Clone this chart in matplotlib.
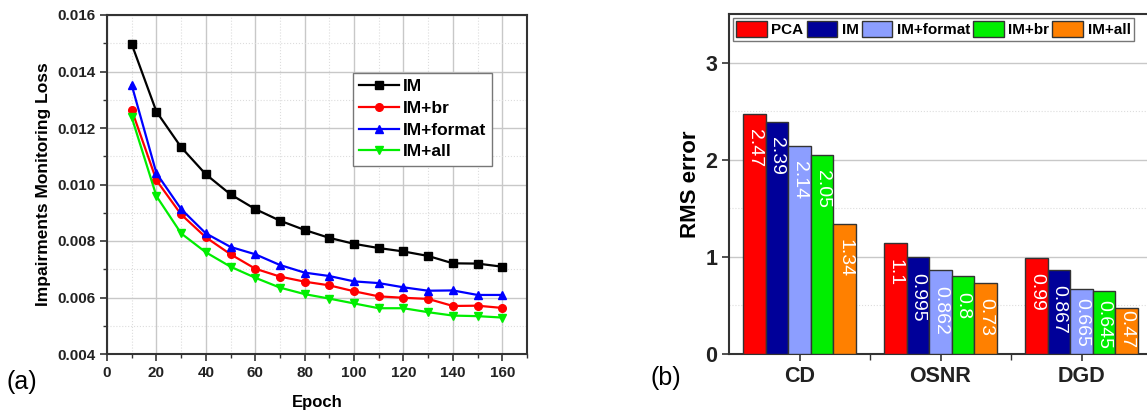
import numpy as np
import matplotlib.pyplot as plt
from matplotlib.ticker import MultipleLocator

plt.rcParams['font.family'] = ['Liberation Sans', 'DejaVu Sans']

# left panel data: loss vs epoch
epochs = [10, 20, 30, 40, 50, 60, 70, 80, 90, 100, 110, 120, 130, 140, 150, 160]
loss_im = [0.01497, 0.01258, 0.01132, 0.01036, 0.00965, 0.00913, 0.00872, 0.00839,
           0.00811, 0.00790, 0.00775, 0.00763, 0.00747, 0.00721, 0.00720, 0.00709]
loss_br = [0.01264, 0.01015, 0.00894, 0.00813, 0.00753, 0.00702, 0.00674, 0.00656,
           0.00643, 0.00622, 0.00604, 0.00599, 0.00595, 0.00570, 0.00571, 0.00563]
loss_format = [0.01352, 0.01040, 0.00913, 0.00827, 0.00779, 0.00753, 0.00715, 0.00688,
               0.00676, 0.00657, 0.00651, 0.00636, 0.00624, 0.00625, 0.00609, 0.00609]
loss_all = [0.01238, 0.00959, 0.00827, 0.00760, 0.00709, 0.00670, 0.00635, 0.00612,
            0.00596, 0.00579, 0.00562, 0.00562, 0.00548, 0.00536, 0.00534, 0.00529]

# right panel data: RMS error per impairment
impairments = ['CD', 'OSNR', 'DGD']
methods = ['PCA', 'IM', 'IM+format', 'IM+br', 'IM+all']
rms = [
    [2.47, 1.14, 0.99],    # PCA
    [2.39, 0.995, 0.867],  # IM
    [2.14, 0.862, 0.665],  # IM+format
    [2.05, 0.80, 0.645],   # IM+br
    [1.34, 0.73, 0.47],    # IM+all
]
rms_labels = [
    ['2.47', '1.1', '0.99'],
    ['2.39', '0.995', '0.867'],
    ['2.14', '0.862', '0.665'],
    ['2.05', '0.8', '0.645'],
    ['1.34', '0.73', '0.47'],
]
bar_colors = ['#ff0000', '#000099', '#8c9eff', '#00ee00', '#ff8000']

W, H = 1147, 412
fig = plt.figure(figsize=(W / 100, H / 100), dpi=100)

spine_c = '#333333'
grid_c = '#c8c8c8'

# ---------- (a) ----------
ax1 = fig.add_axes([107 / W, 1 - 354 / H, (527 - 107) / W, (354 - 15) / H])
series = [(loss_im, 'IM', 'k', 's'),
          (loss_br, 'IM+br', '#ff0000', 'o'),
          (loss_format, 'IM+format', '#0000ff', '^'),
          (loss_all, 'IM+all', '#00ee00', 'v')]
for ys, lab, c, m in series:
    ax1.plot(epochs, ys, color=c, marker=m, ms=5.5, lw=1.6, label=lab, zorder=3)

ax1.set_xlim(0, 170)
ax1.set_ylim(0.004, 0.016)
ax1.xaxis.set_major_locator(MultipleLocator(20))
ax1.xaxis.set_minor_locator(MultipleLocator(10))
ax1.yaxis.set_major_locator(MultipleLocator(0.002))
ax1.yaxis.set_minor_locator(MultipleLocator(0.001))
ax1.set_xticks(np.arange(0, 161, 20))
ax1.yaxis.set_major_formatter(plt.FormatStrFormatter('%.3f'))
ax1.grid(True, which='major', color=grid_c, lw=1)
ax1.grid(True, which='minor', color='#dddddd', lw=0.8, ls=':')
ax1.set_axisbelow(True)
ax1.tick_params(which='major', direction='out', length=5, width=1.2, colors=spine_c,
                labelsize=11, labelcolor='#222222')
ax1.tick_params(which='minor', direction='out', length=3, width=1, colors=spine_c)
for lab in ax1.get_xticklabels() + ax1.get_yticklabels():
    lab.set_fontweight('bold')
for s in ax1.spines.values():
    s.set_color(spine_c)
    s.set_linewidth(1.5)
ax1.set_xlabel('Epoch', fontsize=12, fontweight='bold', labelpad=11)
ax1.set_ylabel('Impairments Monitoring Loss', fontsize=12.5, fontweight='bold', labelpad=4)
leg1 = ax1.legend(loc='upper left', bbox_to_anchor=(353 / W, 1 - 73 / H),
                  bbox_transform=fig.transFigure, fancybox=False, framealpha=1,
                  edgecolor='#777777', handlelength=2.3, handletextpad=0.2,
                  borderpad=0.35, labelspacing=0.38, borderaxespad=0,
                  prop={'size': 12.5, 'weight': 'bold'})
leg1.get_frame().set_linewidth(1)
fig.text(7 / W, 1 - 382 / H, '(a)', fontsize=18, va='center', ha='left')

# ---------- (b) ----------
ax2 = fig.add_axes([729 / W, 1 - 354 / H, (1152 - 729) / W, (354 - 14) / H])
x = np.arange(len(impairments))
bw = 0.16
for i, (vals, name) in enumerate(zip(rms, methods)):
    pos = x + (i - 2) * bw
    ax2.bar(pos, vals, width=bw, color=bar_colors[i], edgecolor=spine_c, lw=1,
            label=name, zorder=3)
    for px, v, t in zip(pos, vals, rms_labels[i]):
        # short bars get their label pushed up so it stays inside
        if v > 0.7:
            off = -11
        elif v > 0.6:
            off = -6
        else:
            off = -1
        ax2.annotate(t, (px, v), xytext=(0, off), textcoords='offset points',
                     rotation=-90, ha='center', va='top', color='white',
                     fontsize=14, zorder=4)

ax2.set_xlim(-0.5, 2.5)
ax2.set_ylim(0, 3.5)
ax2.set_xticks(x)
ax2.set_xticklabels(impairments)
ax2.set_xticks([0.5, 1.5], minor=True)
ax2.set_yticks([0, 1, 2, 3])
ax2.set_yticks([0.5, 1.5, 2.5], minor=True)
ax2.grid(True, axis='y', which='major', color=grid_c, lw=1)
ax2.grid(True, axis='y', which='minor', color='#dddddd', lw=0.8, ls=':')
ax2.set_axisbelow(True)
ax2.tick_params(which='major', direction='out', length=5, width=1.2, colors=spine_c,
                labelsize=15.5, labelcolor='#222222')
ax2.tick_params(axis='y', which='minor', length=0)
ax2.tick_params(axis='x', which='minor', direction='out', length=4, width=1, colors=spine_c)
for lab in ax2.get_xticklabels() + ax2.get_yticklabels():
    lab.set_fontweight('bold')
for s in ax2.spines.values():
    s.set_color(spine_c)
    s.set_linewidth(1.5)
ax2.set_ylabel('RMS error', fontsize=16, fontweight='bold', labelpad=3)
leg2 = ax2.legend(loc='upper left', bbox_to_anchor=(733 / W, 1 - 18 / H),
                  bbox_transform=fig.transFigure, ncol=5, fancybox=False, framealpha=1,
                  edgecolor='#777777', handlelength=2.0, handleheight=1.2,
                  handletextpad=0.3, columnspacing=0.2, borderpad=0.22,
                  borderaxespad=0, prop={'size': 11, 'weight': 'bold'})
leg2.get_frame().set_linewidth(1)
fig.text(650 / W, 1 - 378 / H, '(b)', fontsize=18, va='center', ha='left')

fig.savefig('out.png', dpi=100)
